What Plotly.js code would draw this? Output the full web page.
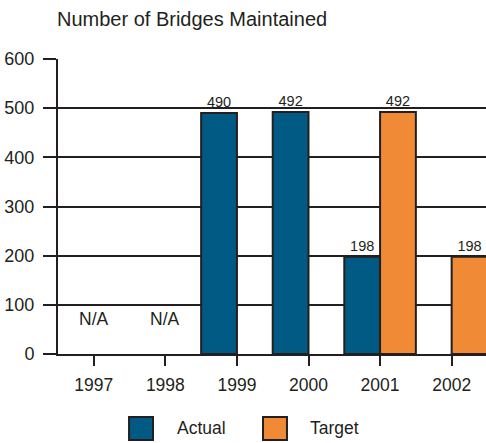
<!DOCTYPE html>
<html>
<head>
<meta charset="utf-8">
<script src="https://cdn.plot.ly/plotly-3.0.1.min.js"></script>
<style>html,body{margin:0;padding:0;background:#fff;overflow:hidden}</style>
</head>
<body>
<div id="chart" style="width:486px;height:443px"></div>
<script>
const years = ["1997", "1998", "1999", "2000", "2001", "2002"];
const actual = [null, null, 490, 492, 198, null];
const target = [null, null, null, null, 492, 198];
const naYears = ["1997", "1998"];
const naLabel = "N/A";
const seriesNames = ["Actual", "Target"];
const yTicks = [0, 100, 200, 300, 400, 500, 600];

const ink = "#231f20";
const fontFam = "Liberation Sans, Arial, sans-serif";
const colors = ["#005a84", "#f08a36"];

function lbl(arr) { return arr.map(v => v == null ? "" : String(v)); }

const traces = [actual, target].map((vals, i) => ({
  type: "bar",
  name: seriesNames[i],
  x: years,
  y: vals,
  text: lbl(vals),
  textposition: "outside",
  cliponaxis: false,
  textfont: {family: fontFam, size: 14.5, color: ink},
  marker: {color: colors[i], line: {color: ink, width: 2}},
  hoverinfo: "skip",
  showlegend: false
}));

const annotations = naYears.map(y => ({
  x: years.indexOf(y), y: 71, xref: "x", yref: "y", text: naLabel, showarrow: false,
  font: {family: fontFam, size: 17.5, color: ink}, yanchor: "middle"
}));

const legendX = [[0.166, 0.222, 0.273], [0.479, 0.535, 0.584]];
const shapes = [];
seriesNames.forEach((n, i) => {
  shapes.push({type: "rect", xref: "paper", yref: "paper",
    x0: legendX[i][0], x1: legendX[i][1], y0: -0.2915, y1: -0.2136,
    fillcolor: colors[i], line: {color: ink, width: 2}});
  annotations.push({xref: "paper", yref: "paper", x: legendX[i][2], y: -0.252,
    xanchor: "left", yanchor: "middle", text: n, showarrow: false,
    font: {family: fontFam, size: 17.5, color: ink}});
});

const layout = {
  width: 486, height: 443,
  margin: {l: 58, r: 0, t: 59, b: 89},
  paper_bgcolor: "#fff", plot_bgcolor: "#fff",
  font: {family: fontFam, size: 17.5, color: ink},
  title: {text: "Number of Bridges Maintained", xref: "container", yref: "container",
    x: 57/486, xanchor: "left", y: 1 - 19/443, yanchor: "middle",
    font: {family: fontFam, size: 20, color: ink}},
  barmode: "group", bargap: 0, bargroupgap: 0,
  xaxis: {type: "category", range: [-0.5, 5.48], showgrid: false, zeroline: false,
    showline: true, linecolor: ink, linewidth: 2,
    ticks: "outside", ticklen: 10, tickwidth: 2, tickcolor: ink,
    tickfont: {family: fontFam, size: 17.5, color: ink}, ticklabelstandoff: 4},
  yaxis: {range: [0, 600], tickvals: yTicks, showgrid: true, gridcolor: ink, gridwidth: 2,
    zeroline: false, showline: true, linecolor: ink, linewidth: 2,
    ticks: "outside", ticklen: 13, tickwidth: 2, tickcolor: ink,
    tickfont: {family: fontFam, size: 18, color: ink}, ticklabelstandoff: 5},
  annotations: annotations,
  shapes: shapes,
  showlegend: false
};

Plotly.newPlot("chart", traces, layout, {displayModeBar: false, staticPlot: true});
</script>
</body>
</html>
